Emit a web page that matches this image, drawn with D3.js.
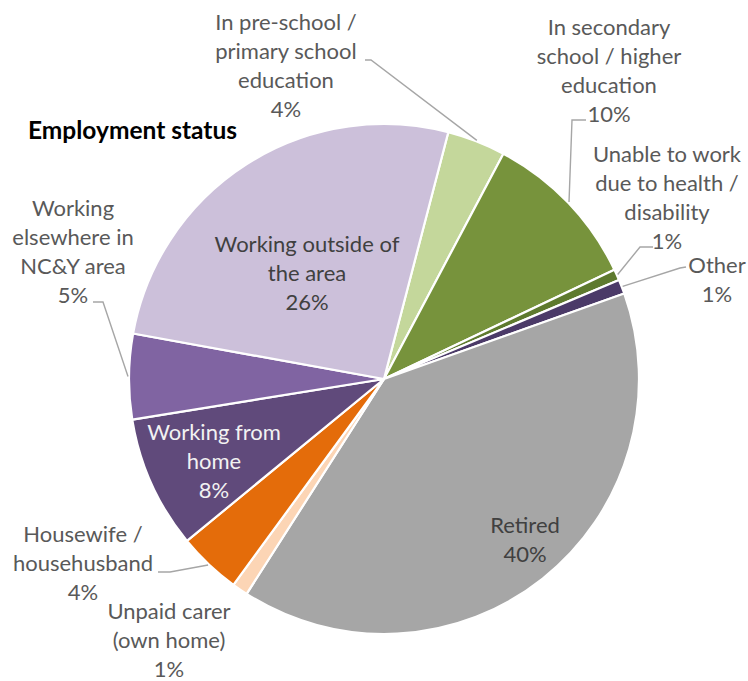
<!DOCTYPE html>
<html>
<head>
<meta charset="utf-8">
<script src="https://cdn.jsdelivr.net/npm/d3@7/dist/d3.min.js"></script>
<style>
  html, body { margin: 0; padding: 0; background: #ffffff; }
  svg { display: block; }
  text { font-family: Lato, "Open Sans", "Liberation Sans", sans-serif; }
</style>
</head>
<body>
<svg id="chart" width="748" height="681"></svg>
<script>
// Employment status of respondents (share of total, %), clockwise from the top
const categories = [
  "In pre-school /\nprimary school\neducation",
  "In secondary\nschool / higher\neducation",
  "Unable to work\ndue to health /\ndisability",
  "Other",
  "Retired",
  "Unpaid carer\n(own home)",
  "Housewife /\nhousehusband",
  "Working from\nhome",
  "Working\nelsewhere in\nNC&Y area",
  "Working outside of\nthe area"
];
const shares = [3.7, 10.2, 0.7, 0.9, 39.5, 1.0, 4.0, 8.4, 5.4, 26.2];
const colors = ["#C4D79B", "#77933C", "#5E7A2E", "#4B3A68", "#A6A6A6",
                "#FCD5B5", "#E46C0A", "#604A7B", "#8064A2", "#CCC0DA"];

// Label placement: centre x, first baseline y, text colour, leader-line start/elbow
const labelLayout = [
  { x: 286, y: 30,  fill: "#595959", leader: [[365, 60], [371, 60]] },
  { x: 609, y: 35,  fill: "#595959", leader: [[586, 120], [572, 120]] },
  { x: 667, y: 162, fill: "#595959", leader: [[653, 247], [640, 247]] },
  { x: 717, y: 273, fill: "#595959", leader: [[686, 267], [680, 268]] },
  { x: 525, y: 533, fill: "#404040", leader: null },
  { x: 169, y: 619, fill: "#595959", leader: null },
  { x: 83,  y: 542, fill: "#595959", leader: [[158, 572], [170, 572]] },
  { x: 214, y: 440, fill: "#F2F2F2", leader: null },
  { x: 73,  y: 216, fill: "#595959", leader: [[93, 302], [103, 302]] },
  { x: 307, y: 252, fill: "#404040", leader: null }
];

const width = 748, height = 681;
const cx = 384, cy = 379, radius = 255;
const startDeg = 14.6;
const lineGap = 29;
const fontSize = 22;

const svg = d3.select("#chart");

const data = categories.map((c, i) => ({ name: c, value: shares[i], i }));

const pie = d3.pie()
  .sort(null)
  .value(d => d.value)
  .startAngle(startDeg * Math.PI / 180)
  .endAngle((startDeg + 360) * Math.PI / 180);

const arc = d3.arc().innerRadius(0).outerRadius(radius);
const arcs = pie(data);

const g = svg.append("g").attr("transform", `translate(${cx},${cy})`);

g.selectAll("path.slice")
  .data(arcs)
  .join("path")
  .attr("class", "slice")
  .attr("d", arc)
  .attr("fill", d => colors[d.data.i])
  .attr("stroke", "#ffffff")
  .attr("stroke-width", 2.2)
  .attr("stroke-linejoin", "round");

// Leader lines run from the label to the outer edge at the slice's mid angle
const edgePoint = d => {
  const a = (d.startAngle + d.endAngle) / 2;
  const r = radius + 1;
  return [cx + r * Math.sin(a), cy - r * Math.cos(a)];
};

const line = d3.line();
svg.selectAll("path.leader")
  .data(arcs.filter(d => labelLayout[d.data.i].leader))
  .join("path")
  .attr("class", "leader")
  .attr("d", d => line([...labelLayout[d.data.i].leader, edgePoint(d)]))
  .attr("fill", "none")
  .attr("stroke", "#A6A6A6")
  .attr("stroke-width", 1.4);

// Data labels: category name lines followed by the rounded percentage
const fmt = v => Math.round(v) + "%";
const labels = svg.selectAll("text.label")
  .data(arcs)
  .join("text")
  .attr("class", "label")
  .attr("text-anchor", "middle")
  .attr("font-size", fontSize)
  .attr("fill", d => labelLayout[d.data.i].fill);

labels.each(function(d) {
  const lay = labelLayout[d.data.i];
  const rows = d.data.name.split("\n").concat([fmt(d.data.value)]);
  d3.select(this).selectAll("tspan")
    .data(rows)
    .join("tspan")
    .attr("x", lay.x)
    .attr("y", (r, k) => lay.y + k * lineGap)
    .text(r => r);
});

svg.append("text")
  .attr("x", 28)
  .attr("y", 139)
  .attr("font-size", 24.5)
  .attr("font-weight", "bold")
  .attr("fill", "#000000")
  .text("Employment status");
</script>
</body>
</html>
